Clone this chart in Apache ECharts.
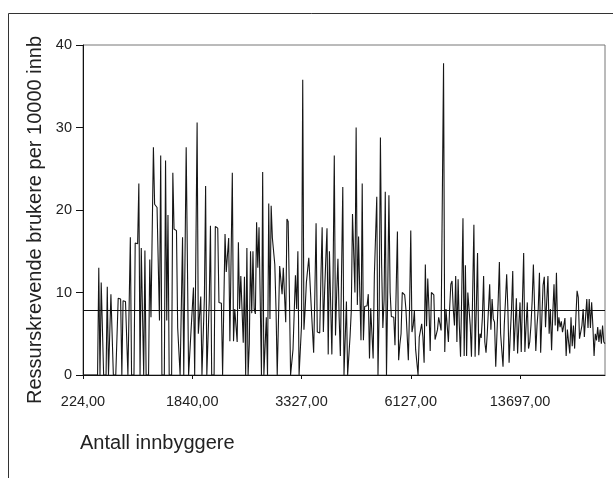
<!DOCTYPE html>
<html>
<head>
<meta charset="utf-8">
<script src="https://cdn.jsdelivr.net/npm/echarts@6/dist/echarts.min.js"></script>
<style>
  html, body { margin: 0; padding: 0; background: #fff; }
  #chart { width: 613px; height: 478px; }
</style>
</head>
<body>
<div id="chart"></div>
<script>
const FONT_FAMILY = "'Liberation Sans', Arial, sans-serif"
const COLORS = {
  line: '#161616',
  axis: '#111',
  frame: '#333',
  border: '#777',
  text: '#222',
}

// kommuner sortert etter antall innbyggere, 0-99
const rates1 = [
  0, 0, 0, 0, 0, 0, 0, 0, 0, 0,
  0, 0, 0, 13.0, 0, 11.2, 11.0, 0, 0, 0,
  10.7, 0, 0, 9.8, 9.7, 0, 0, 0, 0, 9.3,
  9.2, 9.2, 0, 9.0, 8.9, 8.9, 8.8, 0, 0, 16.7,
  0, 0, 0, 16.0, 16.0, 15.9, 23.2, 0, 15.4, 7.6,
  0, 15.1, 0, 0, 0, 14.0, 7.0, 6.9, 27.6, 20.7,
  20.6, 20.3, 20.2, 6.6, 26.6, 0, 0, 0, 26.0, 6.6,
  19.4, 0, 0, 0, 24.5, 17.7, 17.6, 17.5, 5.7, 5.7,
  0, 0, 16.7, 0, 0, 27.6, 27.4, 0, 0, 5.4,
  5.4, 10.6, 0, 0, 30.6, 5.0, 5.0, 9.5, 0, 0,
]
// 100-199
const rates2 = [
  9.4, 22.9, 0, 0, 9.0, 18.1, 0, 0, 0, 18.0,
  17.9, 17.8, 8.8, 8.7, 8.7, 0, 0, 17.1, 12.5, 12.4,
  16.6, 4.1, 4.1, 24.5, 4.1, 8.0, 8.0, 4.0, 16.1, 8.0,
  12.0, 12.0, 3.9, 11.9, 0, 15.4, 0, 3.8, 15.0, 7.5,
  15.0, 8.0, 7.4, 18.5, 13.0, 17.9, 17.8, 0, 24.6, 0,
  0, 7.0, 0, 20.8, 6.8, 20.5, 16.6, 16.5, 13.4, 8.0,
  0, 6.5, 13.2, 13.0, 9.8, 13.0, 12.8, 6.4, 18.9, 18.6,
  10.0, 0, 0, 3.1, 3.2, 12.1, 8.0, 15.0, 0, 0,
  6.0, 35.8, 5.5, 8.0, 11.2, 11.4, 14.2, 14.2, 8.3, 8.2,
  2.7, 10.0, 18.4, 5.2, 5.2, 5.1, 12.0, 17.9, 5.2, 10.0,
]
// 200-299
const rates3 = [
  14.0, 17.8, 2.5, 15.0, 15.0, 2.5, 12.0, 26.6, 4.8, 10.0,
  14.1, 7.0, 2.3, 2.4, 22.8, 0, 0, 8.9, 0, 0,
  4.7, 7.8, 19.5, 19.3, 10.0, 30.0, 8.5, 16.8, 10.0, 4.2,
  23.2, 4.2, 8.3, 8.3, 8.4, 9.8, 2.0, 8.1, 8.1, 2.0,
  12.0, 12.0, 21.6, 0, 8.0, 28.8, 13.4, 5.7, 9.0, 22.2,
  0, 10.0, 21.8, 10.0, 7.1, 7.0, 7.0, 3.6, 3.6, 17.4,
  1.8, 3.7, 5.0, 10.0, 9.8, 9.7, 8.0, 7.9, 1.8, 8.0,
  17.5, 5.2, 6.0, 7.8, 3.1, 3.1, 0, 4.6, 4.6, 6.2,
  4.6, 1.5, 13.4, 5.9, 11.7, 8.0, 2.9, 10.0, 9.8, 9.7,
  4.3, 4.2, 5.5, 7.0, 6.8, 5.4, 5.4, 37.8, 2.8, 8.0,
]
// 300-430
const rates4 = [
  6.0, 4.0, 8.0, 11.0, 11.4, 8.0, 6.0, 12.0, 4.0, 11.6,
  6.0, 2.2, 10.0, 19.0, 2.3, 13.3, 2.3, 10.0, 9.8, 6.0,
  2.2, 10.0, 18.2, 2.2, 8.0, 14.8, 2.4, 5.0, 4.5, 7.0,
  12.0, 4.0, 2.7, 5.0, 8.0, 11.0, 5.5, 9.2, 6.8, 6.4,
  1.0, 5.0, 9.0, 13.7, 5.0, 3.0, 1.0, 6.0, 9.0, 12.2,
  8.0, 1.5, 5.0, 8.0, 12.6, 2.9, 6.0, 9.3, 2.6, 6.0,
  8.8, 2.8, 9.0, 14.8, 2.8, 6.0, 8.8, 3.2, 4.0, 6.0,
  9.0, 13.4, 13.2, 2.9, 6.0, 8.0, 12.4, 2.7, 7.0, 10.9,
  11.9, 5.8, 9.0, 12.0, 5.0, 8.0, 3.0, 7.5, 11.0, 6.0,
  12.4, 5.3, 7.0, 5.8, 6.5, 5.2, 6.0, 6.9, 2.3, 5.5,
  4.0, 2.6, 7.0, 3.5, 6.0, 3.2, 7.0, 10.2, 9.4, 4.4,
  5.2, 6.0, 8.0, 4.6, 7.0, 9.2, 5.7, 9.2, 5.7, 8.8,
  6.0, 2.3, 5.0, 4.2, 5.8, 4.0, 5.5, 3.8, 6.0, 4.0, 3.8,
]

const tickLabels = ['224,00', '1840,00', '3327,00', '6127,00', '13697,00']
const tickEvery = 90
const meanRate = 7.9

const rates = [...rates1, ...rates2, ...rates3, ...rates4]
const categories = rates.map((_, i) => i)

const chart = echarts.init(document.getElementById('chart'), null, { renderer: 'canvas' })

chart.setOption({
  animation: false,
  graphic: [{
    type: 'rect',
    left: 6, top: 11,
    shape: { width: 606, height: 480 },
    style: { fill: 'none', stroke: COLORS.frame, lineWidth: 1 },
    silent: true,
  }, {
    type: 'text',
    left: 80, top: 433,
    style: {
      text: 'Antall innbyggere',
      fill: COLORS.text,
      font: `20px ${FONT_FAMILY}`,
    },
  }, {
    // y-aksens tittel, litt under midten av plottet
    type: 'text',
    x: 35, y: 220,
    rotation: Math.PI / 2,
    style: {
      text: 'Ressurskrevende brukere per 10000 innb',
      fill: COLORS.text,
      font: `20px ${FONT_FAMILY}`,
      align: 'center',
      verticalAlign: 'middle',
    },
  }],
  grid: {
    left: 83, right: 8, top: 45, bottom: 103,
    show: true,
    borderColor: COLORS.border,
    borderWidth: 1,
  },
  xAxis: {
    type: 'category',
    data: categories,
    boundaryGap: false,
    axisLine: { lineStyle: { color: COLORS.axis, width: 1 } },
    axisTick: { interval: tickEvery - 1, length: 4, lineStyle: { color: COLORS.axis } },
    axisLabel: {
      interval: tickEvery - 1,
      margin: 19,
      fontFamily: FONT_FAMILY,
      fontSize: 14.5,
      color: COLORS.text,
      formatter: (v, idx) => tickLabels[idx / tickEvery] ?? '',
    },
    splitLine: { show: false },
  },
  yAxis: {
    type: 'value',
    min: 0, max: 40, interval: 10,
    axisLine: { show: true, lineStyle: { color: COLORS.axis, width: 1 } },
    axisTick: { show: true, length: 7, lineStyle: { color: COLORS.axis } },
    axisLabel: { margin: 11, fontFamily: FONT_FAMILY, fontSize: 14.5, color: COLORS.text },
    splitLine: { show: false },
  },
  series: [{
    type: 'line',
    data: rates,
    symbol: 'none',
    lineStyle: { color: COLORS.line, width: 1.1 },
    markLine: {
      silent: true,
      symbol: 'none',
      label: { show: false },
      lineStyle: { color: COLORS.axis, type: 'solid', width: 1 },
      data: [{ yAxis: meanRate }],
    },
  }],
})
</script>
</body>
</html>
